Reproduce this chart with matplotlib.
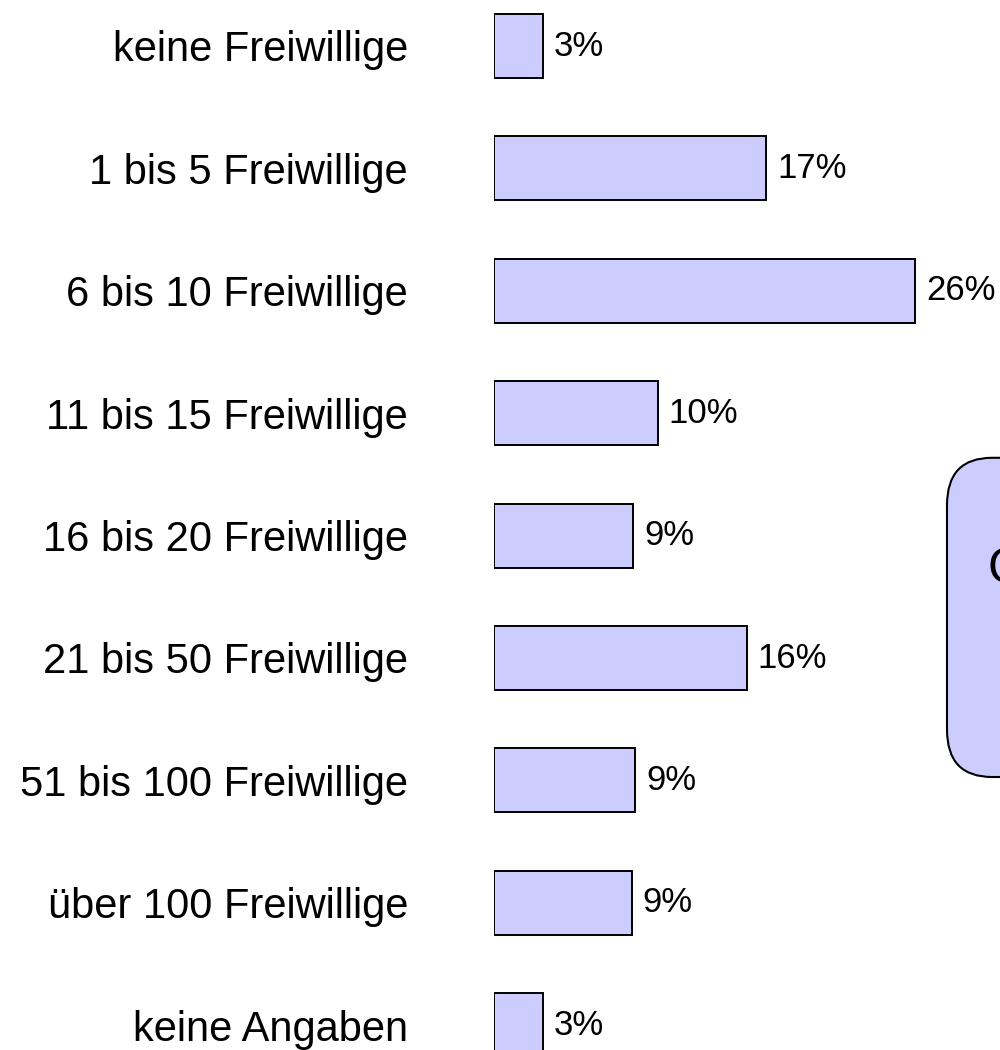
import matplotlib.pyplot as plt
from matplotlib.patches import FancyBboxPatch

plt.rcParams['font.family'] = ['Liberation Sans', 'DejaVu Sans']

categories = ['keine Freiwillige', '1 bis 5 Freiwillige', '6 bis 10 Freiwillige',
              '11 bis 15 Freiwillige', '16 bis 20 Freiwillige', '21 bis 50 Freiwillige',
              '51 bis 100 Freiwillige', 'über 100 Freiwillige', 'keine Angaben']
shares = [3.0, 16.8, 26.0, 10.1, 8.6, 15.6, 8.7, 8.5, 3.0]
labels = ['3%', '17%', '26%', '10%', '9%', '16%', '9%', '9%', '3%']

barcolor = '#ccccff'

fig = plt.figure(figsize=(10, 10.5), dpi=100)
# axes in pixel terms: bars start at x=494px, ~16.2px per percent
ax = fig.add_axes([0.494, 0.0, 0.486, 1.0])
ax.set_xlim(0, 30)
step = 122.4
ax.set_ylim((1050 - 46) / step, -46 / step)

ypos = list(range(len(categories)))
bars = ax.barh(ypos, shares, height=0.523, color=barcolor,
               edgecolor='black', linewidth=1.4)
ax.bar_label(bars, labels=labels, padding=8, fontsize=25)

ax.set_yticks(ypos)
ax.set_yticklabels(categories, fontsize=30)
ax.tick_params(axis='y', length=0, pad=62)
ax.set_xticks([])
for spine in ax.spines.values():
    spine.set_visible(False)
ax.patch.set_visible(False)

# rounded box at the right edge, cut off by the figure border (as in the original)
box = FancyBboxPatch((0.947 + 0.045, 0.262 + 0.043), 0.2, 0.3 - 0.086,
                     boxstyle='round,pad=0.045', transform=fig.transFigure,
                     facecolor=barcolor, edgecolor='black', linewidth=1.5,
                     clip_on=False)
fig.patches.append(box)
fig.text(0.987, 1 - 570 / 1050, 'G', fontsize=36, va='center', ha='left')

fig.savefig('out.png')
